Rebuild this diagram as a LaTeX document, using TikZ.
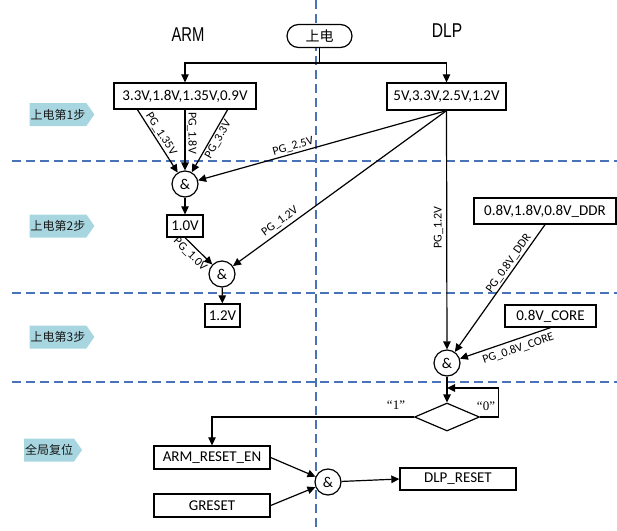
\documentclass[tikz,border=0pt]{standalone}
\usepackage{fontspec}
\usepackage{graphicx}
\setmainfont{Carlito}
\newfontfamily\cjk{Noto Sans CJK SC}
\newfontfamily\titlefont{Liberation Sans}
\newfontfamily\quotefont{Liberation Serif}
\usetikzlibrary{arrows.meta,shapes.symbols,shapes.geometric}

\definecolor{laneblue}{HTML}{4A72B8}
\definecolor{tagblue}{HTML}{A7D6E0}

\tikzset{
  line/.style={line width=1.2pt, draw=black},
  arr/.style={line, -{Triangle[length=8pt,width=7.5pt]}},
  box/.style={draw, fill=white, line width=1.3pt, inner sep=0pt,
              font=\fontsize{15}{18}\selectfont},
  gate/.style={draw, fill=white, circle, line width=1.2pt, minimum size=26pt,
               inner sep=0pt, font=\fontsize{15}{18}\selectfont},
  lane/.style={draw=laneblue, line width=1.5pt, dash pattern=on 9pt off 5pt},
  steptag/.style={signal, signal to=east, signal pointer angle=110, fill=tagblue,
                  inner xsep=1pt, inner ysep=0pt, minimum height=23pt,
                  font=\cjk\fontsize{12}{14}\selectfont, text=black!90},
  pg/.style={font=\fontsize{12}{14}\selectfont, inner sep=1.5pt},
  title/.style={font=\titlefont\fontsize{20}{22}\selectfont, text=black},
  quote/.style={font=\quotefont\fontsize{13}{15}\selectfont},
}

\begin{document}
\begin{tikzpicture}[x=1pt, y=-1pt]
\useasboundingbox (0,0) rectangle (617,530);

% swim-lane separators
\draw[lane] (316,0) -- (316,530);
\draw[lane] (12,161) -- (617,161);
\draw[lane] (12,293) -- (617,293);
\draw[lane] (12,382) -- (617,382);

% column titles
\node[title] (armtitle) at (188,35) {\scalebox{0.74}[1]{ARM}};
\node[title] (dlptitle) at (447,31) {\scalebox{0.78}[1]{DLP}};

% step tags
\node[steptag, minimum width=60pt] (tag1) at (58,114.5) {上电第1步};
\node[steptag, minimum width=60pt] (tag2) at (58,226) {上电第2步};
\node[steptag, minimum width=60pt] (tag3) at (58,337) {上电第3步};
\node[steptag, minimum width=52pt] (tag4) at (49,450) {全局复位};

% power-on terminal
\node[draw, fill=white, rounded corners=11.5pt, line width=1.2pt, minimum width=65pt,
      minimum height=23pt, inner sep=0pt, font=\cjk\fontsize{14}{16}\selectfont]
      (pwr) at (319.5,36) {上电};
\coordinate (split) at (319.5,63);

% rails
\node[box, minimum width=142pt, minimum height=26pt] (armv) at (185,96) {3.3V,1.8V,1.35V,0.9V};
\node[box, minimum width=119pt, minimum height=27pt] (dlpv) at (446.5,96.5) {5V,3.3V,2.5V,1.2V};
\node[box, minimum width=36pt, minimum height=22pt] (v10) at (185,226) {1.0V};
\node[box, minimum width=35pt, minimum height=23pt] (v12) at (222.5,315.5) {1.2V};
\node[box, minimum width=142pt, minimum height=26pt] (ddr) at (545,211) {0.8V,1.8V,0.8V\_DDR};
\node[box, minimum width=91pt, minimum height=22pt] (core) at (550.5,316) {0.8V\_CORE};

% AND gates
\node[gate] (g1) at (185,184) {\&};
\node[gate] (g2) at (222,274) {\&};
\node[gate] (g3) at (447,363) {\&};
\node[gate] (g4) at (328,482) {\&};

% decision
\node[diamond, draw, fill=white, line width=1.2pt, minimum width=65pt,
      minimum height=28pt, inner sep=0pt] (dec) at (447,417) {};
\coordinate (loopin) at (447,388);

% reset blocks
\node[box, minimum width=116pt, minimum height=23pt] (armrst) at (212,457.5) {ARM\_RESET\_EN};
\node[box, minimum width=116pt, minimum height=23pt] (greset) at (212,505.5) {GRESET};
\node[box, minimum width=116pt, minimum height=22pt] (dlprst) at (458,479) {DLP\_RESET};

% taps on the ARM rail box
\coordinate (a1) at (137,109);
\coordinate (a2) at (185,109);
\coordinate (a3) at (228,109);

% power-on fan out
\draw[line] (pwr.south) -- (split);
\draw[arr] (split) -| (armv.north);
\draw[arr] (split) -| (dlpv.north);

% step 1 -> first gate
\draw[arr] (a1) -- node[pg, sloped, above, pos=0.45] {PG\_1.35V} (g1);
\draw[arr] (a2) -- node[pg, rotate=-90, anchor=south, pos=0.39] {PG\_1.8V} (g1);
\draw[arr] (a3) -- node[pg, sloped, below, pos=0.43] {PG\_3.3V} (g1);
\draw[arr] (dlpv.south) -- node[pg, sloped, above, pos=0.61] {PG\_2.5V} (g1);

% step 2
\draw[arr] (g1) -- (v10);
\draw[arr] (v10.south) -- node[pg, sloped, below, inner sep=3pt, pos=0.4] {PG\_1.0V} (g2);
\draw[arr] (dlpv.south) -- node[pg, sloped, above, inner sep=3pt, pos=0.757] {PG\_1.2V} (g2);
\draw[arr] (g2) -- (v12);

% step 3
\draw[arr] (dlpv.south) -- node[pg, rotate=90, anchor=south, inner sep=3pt, pos=0.49] {PG\_1.2V} (g3);
\draw[arr] (ddr.south) -- node[pg, sloped, above, pos=0.34] {PG\_0.8V\_DDR} (g3);
\draw[arr] (core.south) -- node[pg, sloped, below, inner sep=4pt, pos=0.39] {PG\_0.8V\_CORE} (g3);

% decision and wait loop
\draw[arr] (g3) -- (dec.north);
\draw[arr] (dec.east) -- ++(18,0) |- (loopin);
\node[quote] (q1) at (396,405) {“1”};
\node[quote] (q0) at (486,406) {“0”};
\draw[arr] (dec.west) -| (armrst.north);

% global reset
\draw[arr] (armrst.east) -- (g4);
\draw[arr] (greset.east) -- (g4);
\draw[arr] (g4) -- (dlprst.west);
\end{tikzpicture}
\end{document}
